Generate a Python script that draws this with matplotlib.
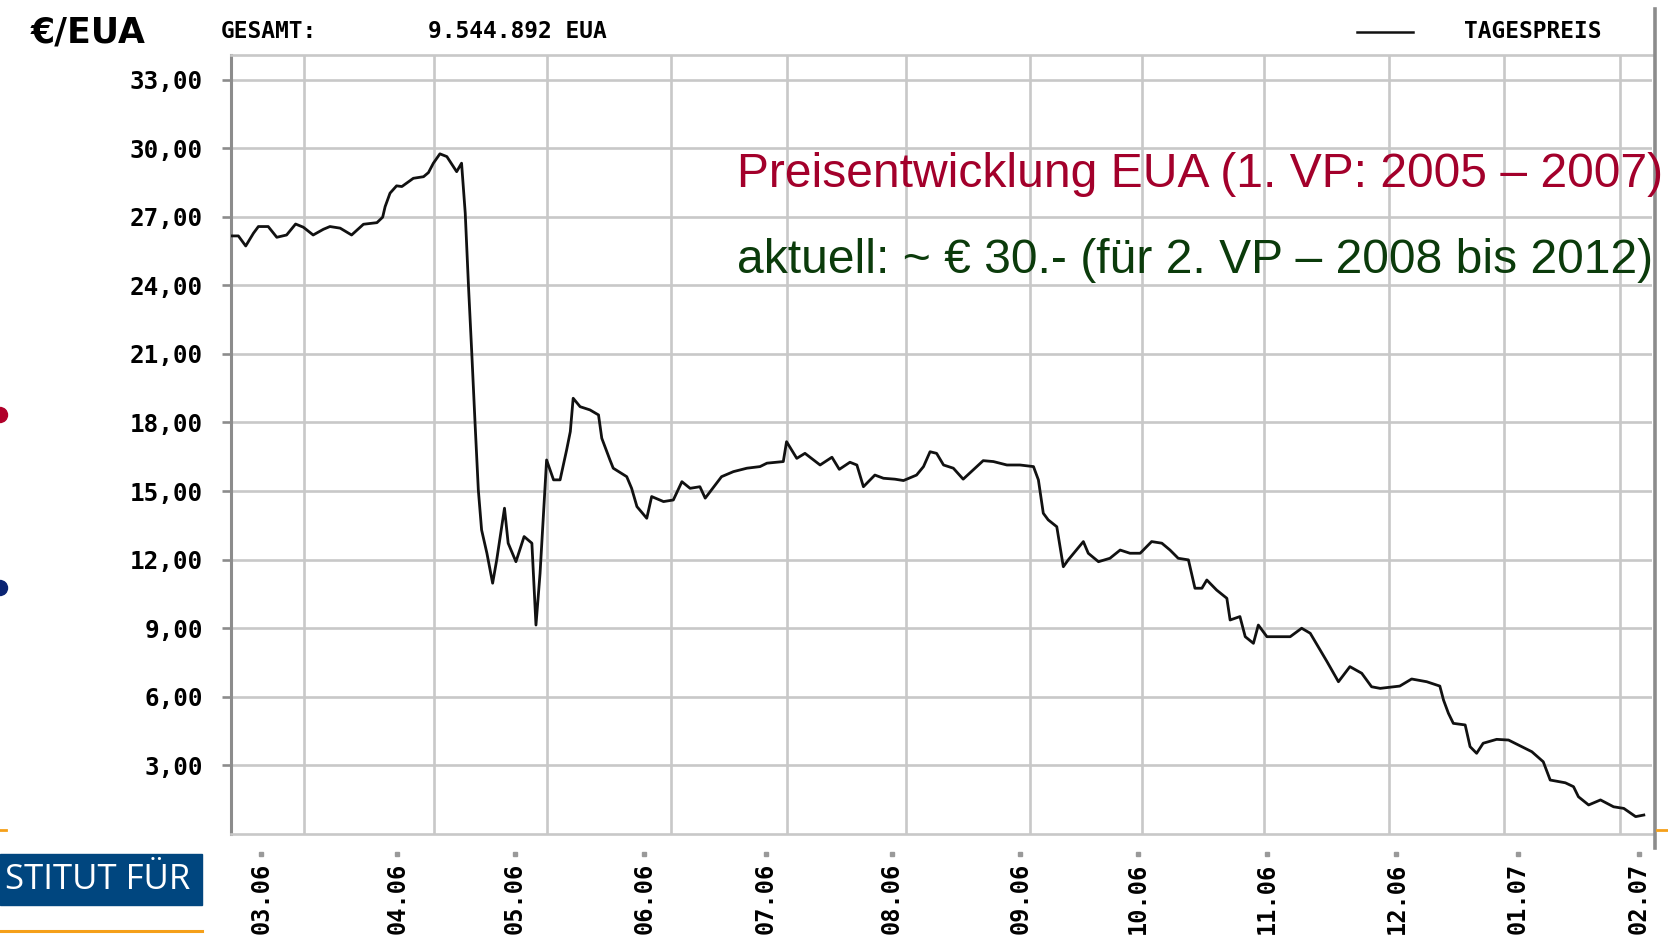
import matplotlib
matplotlib.use('Agg')
import matplotlib.pyplot as plt
from matplotlib.lines import Line2D
from matplotlib.patches import Rectangle, Ellipse

# ---------------- data ----------------
# x: days since 1 March 2006 (label "03.06"), y: EUA price in EUR
days = [-7.4, -5.6, -3.8, -1.9, -0.7, 1.7, 3.8, 6.2, 8.4, 10.3, 12.7, 15.2, 16.8, 19.3,
        22.1, 25.0, 28.3, 29.7, 30.3, 31.5, 33.1, 34.4, 37.2, 39.7, 40.9, 42.1, 43.7,
        45.4, 47.0, 47.8, 49.0, 49.9, 50.7, 51.5, 52.3, 53.1, 53.9, 55.2, 56.6, 57.6,
        59.5, 60.4, 62.3, 64.3, 66.2, 67.2, 68.2, 69.8, 71.5, 73.1, 74.7, 75.6, 76.3,
        78.0, 80.4, 82.5, 83.3, 85.3, 86.1, 89.4, 90.6, 91.9, 94.3, 95.5, 98.4, 100.8,
        102.9, 104.9, 107.3, 108.6, 112.6, 115.5, 118.8, 122.0, 123.7, 127.7, 128.5,
        131.0, 133.0, 136.7, 139.6, 141.4, 144.0, 145.7, 147.3, 150.1, 152.2, 155.0,
        157.1, 160.3, 162.0, 163.6, 165.2, 166.9, 169.3, 171.7, 176.6, 179.1, 182.4,
        185.6, 188.9, 190.1, 191.3, 192.5, 194.6, 196.2, 197.4, 201.1, 202.3, 204.8,
        207.6, 210.1, 212.5, 215.0, 217.8, 220.3, 222.3, 224.3, 226.8, 228.4, 230.1,
        231.3, 233.7, 236.2, 237.0, 239.4, 240.7, 242.7, 243.9, 246.0, 251.7, 254.5,
        256.6, 259.0, 260.7, 263.5, 266.3, 269.2, 271.6, 273.7, 278.5, 281.4, 285.1,
        288.3, 289.2, 290.4, 291.6, 294.5, 295.7, 297.3, 298.9, 302.2, 305.1, 307.9,
        310.8, 313.6, 315.3, 319.0, 321.0, 322.2, 324.7, 327.6, 330.8, 333.3, 336.2,
        338.2]
prices = [26.16, 26.16, 25.72, 26.28, 26.57, 26.57, 26.10, 26.20, 26.68, 26.54, 26.20,
          26.45, 26.57, 26.50, 26.20, 26.67, 26.74, 26.98, 27.44, 28.03, 28.35, 28.32,
          28.68, 28.75, 28.93, 29.34, 29.75, 29.63, 29.19, 28.97, 29.34, 27.15, 23.94,
          21.03, 17.97, 15.05, 13.30, 12.28, 10.97, 11.99, 14.25, 12.72, 11.91, 13.01,
          12.72, 9.14, 11.40, 16.36, 15.49, 15.49, 16.80, 17.60, 19.06, 18.69, 18.55,
          18.33, 17.31, 16.36, 16.00, 15.63, 15.12, 14.32, 13.81, 14.76, 14.54, 14.61,
          15.41, 15.12, 15.19, 14.69, 15.63, 15.85, 16.00, 16.07, 16.22, 16.29, 17.16,
          16.43, 16.65, 16.14, 16.48, 15.95, 16.26, 16.14, 15.19, 15.70, 15.56, 15.52,
          15.46, 15.70, 16.07, 16.72, 16.65, 16.14, 16.00, 15.52, 16.33, 16.29, 16.14,
          16.14, 16.07, 15.49, 14.03, 13.74, 13.44, 11.69, 11.99, 12.79, 12.28, 11.91,
          12.06, 12.42, 12.28, 12.28, 12.79, 12.72, 12.42, 12.06, 11.99, 10.75, 10.75,
          11.11, 10.67, 10.31, 9.36, 9.51, 8.63, 8.34, 9.14, 8.63, 8.63, 9.00,
          8.78, 8.05, 7.54, 6.66, 7.32, 7.03, 6.44, 6.37, 6.47, 6.78, 6.66,
          6.47, 5.86, 5.28, 4.84, 4.77, 3.82, 3.53, 3.97, 4.14, 4.11, 3.86,
          3.60, 3.16, 2.36, 2.24, 2.07, 1.63, 1.27, 1.49, 1.19, 1.12, 0.76,
          0.83]

y_ticks = [3, 6, 9, 12, 15, 18, 21, 24, 27, 30, 33]
y_tick_labels = ['3,00', '6,00', '9,00', '12,00', '15,00', '18,00', '21,00',
                 '24,00', '27,00', '30,00', '33,00']
x_label_days = [0, 33.3, 62.0, 93.7, 123.5, 154.2, 185.7, 214.4, 246.1, 277.7, 307.4, 337.0]
x_labels = ['03.06', '04.06', '05.06', '06.06', '07.06', '08.06', '09.06',
            '10.06', '11.06', '12.06', '01.07', '02.07']
x_grid_days = [10.4, 42.2, 69.9, 100.2, 128.5, 157.6, 188.1, 215.5, 245.3, 275.9,
               304.1, 332.3]

header_unit = '€/EUA'
header_total_label = 'GESAMT:'
header_total_value = '9.544.892 EUA'
legend_label = 'TAGESPREIS'
note_line1 = 'Preisentwicklung EUA (1. VP: 2005 – 2007)'
note_line2 = 'aktuell: ~ € 30.- (für 2. VP – 2008 bis 2012)'
logo_text = 'STITUT FÜR'

# ---------------- figure ----------------
W, H = 1668, 942
fig = plt.figure(figsize=(W / 100, H / 100), dpi=100)
fig.patch.set_facecolor('white')


def fx(p):
    return p / W


def fy(p):
    return 1 - p / H


GRID = '#c8c8c8'
AXIS = '#8c8c8c'
MONO = 'DejaVu Sans Mono'

ax = fig.add_axes([fx(231), fy(834), (1652 - 231) / W, (834 - 55.3) / H])
ax.plot(days, prices, color='#111111', lw=2.0, solid_joinstyle='round', zorder=3)
ax.set_xlim(-7.4, 340.2)
ax.set_ylim(0, 34.06)

ax.set_yticks(y_ticks)
ax.set_yticklabels(y_tick_labels, family=MONO, fontweight='bold', fontsize=17.5)
ax.tick_params(axis='y', length=6.7, width=1.9, color=AXIS, pad=13.5)

ax.set_xticks(x_label_days)
ax.set_xticklabels(x_labels, rotation=90, family=MONO, fontweight='bold', fontsize=17)
ax.tick_params(axis='x', which='major', length=0, pad=21)
ax.set_xticks(x_grid_days, minor=True)
ax.tick_params(axis='x', which='minor', length=0)

ax.set_axisbelow(True)
ax.grid(axis='y', which='major', color=GRID, lw=1.9)
ax.grid(axis='x', which='minor', color=GRID, lw=1.9)
ax.grid(axis='x', which='major', visible=False)

for side in ('top', 'bottom'):
    ax.spines[side].set_color(GRID)
    ax.spines[side].set_linewidth(1.9)
ax.spines['left'].set_color(AXIS)
ax.spines['left'].set_linewidth(2.2)
ax.spines['right'].set_visible(False)

# small tick dots above the date labels
ax.plot(x_label_days, [-0.026] * len(x_label_days), 's', ms=2.2, color='#999999',
        transform=ax.get_xaxis_transform(), clip_on=False)

# ---------------- header ----------------
fig.text(fx(88), fy(33), header_unit, family='DejaVu Sans', fontweight='bold',
         fontsize=25, ha='center', va='center')
fig.text(fx(269), fy(31), header_total_label, family=MONO, fontweight='bold',
         fontsize=16.5, ha='center', va='center')
fig.text(fx(517), fy(31), header_total_value, family=MONO, fontweight='bold',
         fontsize=16.5, ha='center', va='center')
fig.add_artist(Line2D([fx(1357), fx(1413)], [fy(31.7), fy(31.7)], color='#111111', lw=1.8))
fig.text(fx(1533), fy(31), legend_label, family=MONO, fontweight='bold',
         fontsize=16.5, ha='center', va='center')

# ---------------- annotations ----------------
fig.text(fx(737), fy(187), note_line1, family='Liberation Sans', fontsize=34.6,
         color='#a3002b', va='baseline', ha='left')
fig.text(fx(737), fy(273), note_line2, family='Liberation Sans', fontsize=34.6,
         color='#0b3b0b', va='baseline', ha='left')

# ---------------- slide decorations ----------------
fig.add_artist(Line2D([fx(1655), fx(1655)], [fy(9), fy(848)], color=AXIS, lw=2.6))
ORANGE = '#f5a01a'
fig.add_artist(Line2D([fx(0), fx(6)], [fy(830), fy(830)], color=ORANGE, lw=2))
fig.add_artist(Line2D([fx(1657), fx(1668)], [fy(830), fy(830)], color=ORANGE, lw=2))
fig.add_artist(Line2D([fx(0), fx(202)], [fy(931), fy(931)], color=ORANGE, lw=2.2))
fig.add_artist(Rectangle((0, fy(905)), fx(202), (905 - 854) / H, color='#00467f'))
fig.text(fx(5), fy(880), logo_text, family='Open Sans', fontsize=25, color='white',
         ha='left', va='center')
r = 7.5
fig.add_artist(Ellipse((0, fy(415)), 2 * r / W, 2 * r / H, color='#b0002a'))
fig.add_artist(Ellipse((0, fy(588)), 2 * r / W, 2 * r / H, color='#0a2372'))

fig.savefig('out.png', dpi=100, facecolor='white')
